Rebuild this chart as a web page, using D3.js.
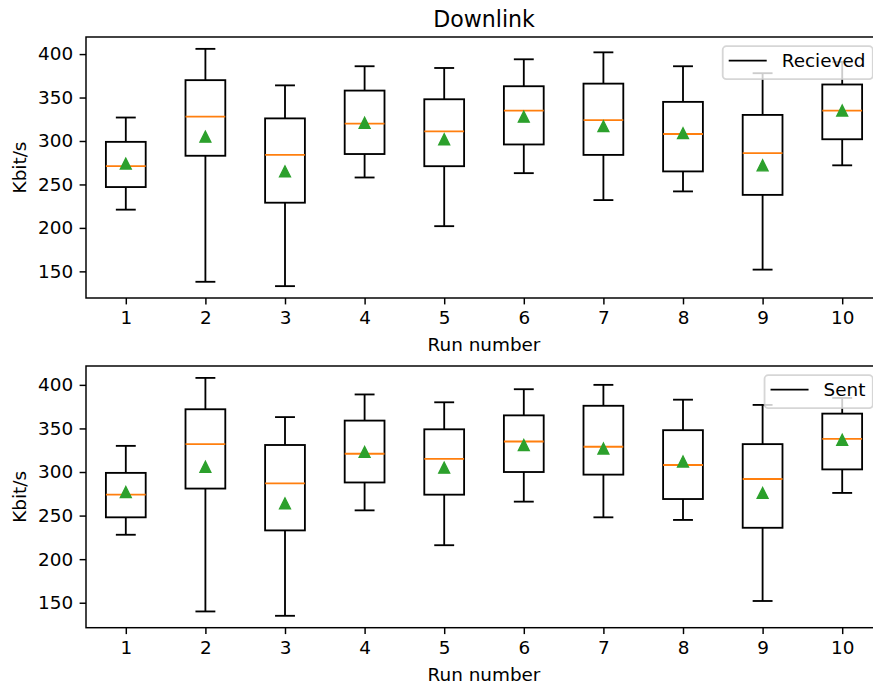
<!DOCTYPE html>
<html>
<head>
<meta charset="utf-8">
<script src="https://cdn.jsdelivr.net/npm/d3@7"></script>
<style>
  html, body { margin: 0; padding: 0; background: #fff; }
  svg { display: block; font-family: "DejaVu Sans", sans-serif; }
</style>
</head>
<body>
<svg id="chart" width="873" height="685"></svg>
<script>
// ---------- data ----------
const runs = [1, 2, 3, 4, 5, 6, 7, 8, 9, 10];
const runLabels = ["1", "2", "3", "4", "5", "6", "7", "8", "9", "10"];
const yTicks = [150, 200, 250, 300, 350, 400];

// Downlink - Recieved
const recvWhiskerLow  = [221, 138, 133, 258, 202, 263, 232, 242, 152, 272];
const recvQ1          = [247, 283, 229, 285, 271, 296, 284, 265, 238, 302];
const recvMedian      = [271, 328, 284, 320, 311, 335, 324, 308, 286, 335];
const recvQ3          = [299, 370, 326, 358, 348, 363, 366, 345, 330, 365];
const recvWhiskerHigh = [327, 406, 364, 386, 384, 394, 402, 386, 378, 391];
const recvMean        = [274, 305, 265, 321, 302, 328, 317, 309, 272, 335];

// Downlink - Sent
const sentWhiskerLow  = [228, 140, 135, 256, 216, 266, 248, 245, 152, 276];
const sentQ1          = [248, 281, 233, 288, 274, 300, 297, 269, 236, 303];
const sentMedian      = [274, 332, 287, 321, 315, 335, 329, 308, 292, 338];
const sentQ3          = [299, 372, 331, 359, 349, 365, 376, 348, 332, 367];
const sentWhiskerHigh = [330, 408, 363, 389, 380, 395, 400, 383, 377, 385];
const sentMean        = [277, 306, 264, 323, 305, 331, 327, 312, 276, 337];

const title = "Downlink";
const xLabel = "Run number";
const yLabel = "Kbit/s";

// ---------- layout ----------
const svg = d3.select("#chart");
const FS = 18.4;          // tick/label font size
const TITLE_FS = 22.1;
const LW = 1.84;          // box line width
const SPINE = 1.47;
const TICK_LEN = 6.4, TICK_PAD = 6.4;
const left = 86, right = 882;

const panels = [
  { name: "Recieved", top: 37, bottom: 298, lo: recvWhiskerLow, q1: recvQ1, med: recvMedian, q3: recvQ3, hi: recvWhiskerHigh, mean: recvMean, title: true },
  { name: "Sent", top: 366, bottom: 627.7, lo: sentWhiskerLow, q1: sentQ1, med: sentMedian, q3: sentQ3, hi: sentWhiskerHigh, mean: sentMean, title: false }
];

const x = d3.scaleLinear().domain([0.5, 10.5]).range([left, right]);
const boxHalf = (x(1.25) - x(1));   // box width 0.5 units
const capHalf = boxHalf / 2;

panels.forEach(p => {
  const dmin = d3.min(p.lo), dmax = d3.max(p.hi);
  const m = (dmax - dmin) * 0.05;
  const y = d3.scaleLinear().domain([dmin - m, dmax + m]).range([p.bottom, p.top]);
  const g = svg.append("g");

  const idx = d3.range(runs.length);

  // boxes
  g.selectAll("rect.box").data(idx).join("rect")
    .attr("x", i => x(runs[i]) - boxHalf)
    .attr("y", i => y(p.q3[i]))
    .attr("width", boxHalf * 2)
    .attr("height", i => y(p.q1[i]) - y(p.q3[i]))
    .attr("fill", "none").attr("stroke", "#000").attr("stroke-width", LW);

  // whiskers
  g.selectAll("line.wlo").data(idx).join("line")
    .attr("x1", i => x(runs[i])).attr("x2", i => x(runs[i]))
    .attr("y1", i => y(p.q1[i])).attr("y2", i => y(p.lo[i]))
    .attr("stroke", "#000").attr("stroke-width", LW);
  g.selectAll("line.whi").data(idx).join("line")
    .attr("x1", i => x(runs[i])).attr("x2", i => x(runs[i]))
    .attr("y1", i => y(p.q3[i])).attr("y2", i => y(p.hi[i]))
    .attr("stroke", "#000").attr("stroke-width", LW);

  // caps
  [p.lo, p.hi].forEach(arr => {
    g.append("g").selectAll("line").data(idx).join("line")
      .attr("x1", i => x(runs[i]) - capHalf).attr("x2", i => x(runs[i]) + capHalf)
      .attr("y1", i => y(arr[i])).attr("y2", i => y(arr[i]))
      .attr("stroke", "#000").attr("stroke-width", LW);
  });

  // medians
  g.append("g").selectAll("line").data(idx).join("line")
    .attr("x1", i => x(runs[i]) - boxHalf).attr("x2", i => x(runs[i]) + boxHalf)
    .attr("y1", i => y(p.med[i])).attr("y2", i => y(p.med[i]))
    .attr("stroke", "#ff7f0e").attr("stroke-width", LW);

  // means (triangle up)
  const r = 5.5;
  g.append("g").selectAll("path").data(idx).join("path")
    .attr("d", i => {
      const cx = x(runs[i]), cy = y(p.mean[i]);
      return `M${cx},${cy - r}L${cx - r},${cy + r}L${cx + r},${cy + r}Z`;
    })
    .attr("fill", "#2ca02c").attr("stroke", "#2ca02c").attr("stroke-width", 1.3)
    .attr("stroke-linejoin", "miter");

  // axes frame
  svg.append("rect")
    .attr("x", left).attr("y", p.top)
    .attr("width", right - left).attr("height", p.bottom - p.top)
    .attr("fill", "none").attr("stroke", "#000").attr("stroke-width", SPINE);

  // x axis
  const xa = svg.append("g").attr("transform", `translate(0,${p.bottom})`)
    .call(d3.axisBottom(x).tickValues(runs).tickFormat((d, i) => runLabels[i])
      .tickSize(TICK_LEN).tickPadding(TICK_PAD));
  xa.select(".domain").remove();
  xa.selectAll(".tick line").attr("stroke", "#000").attr("stroke-width", SPINE);
  xa.selectAll(".tick text").attr("fill", "#000")
    .style("font-family", "DejaVu Sans").style("font-size", FS + "px");

  // y axis
  const ya = svg.append("g").attr("transform", `translate(${left},0)`)
    .call(d3.axisLeft(y).tickValues(yTicks).tickFormat(d3.format("d"))
      .tickSize(TICK_LEN).tickPadding(TICK_PAD));
  ya.select(".domain").remove();
  ya.selectAll(".tick line").attr("stroke", "#000").attr("stroke-width", SPINE);
  ya.selectAll(".tick text").attr("fill", "#000")
    .style("font-family", "DejaVu Sans").style("font-size", FS + "px");

  // axis labels
  svg.append("text")
    .attr("x", (left + right) / 2).attr("y", p.bottom + 53)
    .attr("text-anchor", "middle").style("font-size", FS + "px").attr("fill", "#000")
    .text(xLabel);
  svg.append("text")
    .attr("transform", `translate(26,${(p.top + p.bottom) / 2}) rotate(-90)`)
    .attr("text-anchor", "middle").style("font-size", FS + "px").attr("fill", "#000")
    .text(yLabel);

  if (p.title) {
    svg.append("text")
      .attr("x", (left + right) / 2).attr("y", p.top - 10.5)
      .attr("text-anchor", "middle").style("font-size", TITLE_FS + "px").attr("fill", "#000")
      .text(title);
  }

  // legend (upper right)
  const lg = svg.append("g");
  const legRight = right - 9.2;
  const legTop = p.top + 9.2;
  const legH = 33;
  const tmp = lg.append("text").style("font-size", FS + "px").text(p.name);
  const tw = tmp.node().getComputedTextLength();
  tmp.remove();
  const padL = 6, handleLen = 38, gap = 15, padR = 7.4;
  const legW = padL + handleLen + gap + tw + padR;
  const legLeft = legRight - legW;
  lg.append("rect")
    .attr("x", legLeft).attr("y", legTop).attr("width", legW).attr("height", legH)
    .attr("rx", 3.7).attr("ry", 3.7)
    .attr("fill", "#fff").attr("fill-opacity", 0.8)
    .attr("stroke", "#cccccc").attr("stroke-opacity", 0.8).attr("stroke-width", 1.84);
  lg.append("line")
    .attr("x1", legLeft + padL).attr("x2", legLeft + padL + handleLen)
    .attr("y1", legTop + legH / 2 - 2).attr("y2", legTop + legH / 2 - 2)
    .attr("stroke", "#000").attr("stroke-width", LW);
  lg.append("text")
    .attr("x", legLeft + padL + handleLen + gap).attr("y", legTop + legH / 2 + 4.5)
    .style("font-size", FS + "px").attr("fill", "#000")
    .text(p.name);
});
</script>
</body>
</html>
